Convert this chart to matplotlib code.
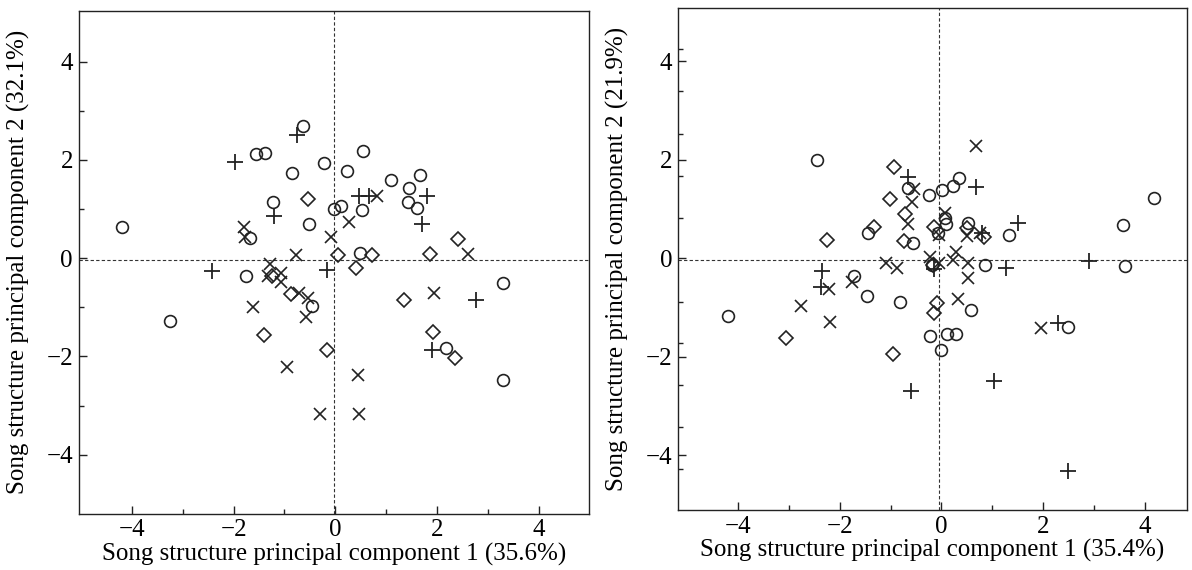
import numpy as np
import matplotlib
matplotlib.use("Agg")
import matplotlib.pyplot as plt
from matplotlib.ticker import FixedLocator

plt.rcParams['font.family'] = ['Liberation Serif', 'DejaVu Serif']

# ---- left panel (PC1 35.6%, PC2 32.1%) ----
left_circle_x = [-4.19, -3.25, -1.55, -1.38, -0.63, -0.86, -0.22, -1.22, -1.67, -0.52,
                 -0.03, 0.12, 0.53, 0.54, 0.23, 1.10, 1.67, 1.46, 1.43, 1.61,
                 0.48, -1.75, -0.46, 2.17, 3.29, 3.29]
left_circle_y = [0.64, -1.28, 2.12, 2.14, 2.68, 1.73, 1.93, 1.15, 0.41, 0.69,
                 1.01, 1.07, 0.98, 2.19, 1.77, 1.59, 1.70, 1.42, 1.15, 1.03,
                 0.10, -0.36, -0.97, -1.82, -0.51, -2.48]
left_plus_x = [-1.98, -0.75, -1.20, -2.43, -0.17, 0.46, 0.67, 1.81, 1.71, 2.76, 1.90]
left_plus_y = [1.96, 2.51, 0.85, -0.27, -0.24, 1.27, 1.26, 1.27, 0.69, -0.85, -1.87]
left_cross_x = [-1.80, -1.77, -0.78, -0.09, 0.82, 0.27, 2.62, -1.28, -1.33, -1.06,
                -1.06, -0.71, -0.54, -0.57, -1.61, -0.94, -0.30, 1.95, 0.44, 0.47]
left_cross_y = [0.64, 0.44, 0.07, 0.43, 1.27, 0.74, 0.08, -0.12, -0.36, -0.31,
                -0.48, -0.70, -0.82, -1.19, -0.99, -2.21, -3.18, -0.71, -2.38, -3.18]
left_diamond_x = [-0.54, 0.05, 0.73, 1.87, 2.42, 0.41, -1.24, -0.88, -1.41, -0.16,
                  1.35, 1.92, 2.35]
left_diamond_y = [1.21, 0.07, 0.07, 0.08, 0.39, -0.21, -0.36, -0.72, -1.57, -1.87,
                  -0.85, -1.50, -2.04]

# ---- right panel (PC1 35.4%, PC2 21.9%) ----
right_circle_x = [-2.44, -0.66, -0.25, -1.45, -0.56, -0.06, -0.19, -1.71, 0.34, 0.23,
                  0.02, 0.07, 0.10, 0.52, 1.32, 3.58, 4.18, 3.62, 0.86, 0.59,
                  -0.22, 0.11, 0.29, 0.00, 2.49, -4.20, -1.47, -0.81]
right_circle_y = [2.00, 1.42, 1.28, 0.52, 0.32, 0.52, -0.14, -0.35, 1.63, 1.47,
                  1.39, 0.81, 0.70, 0.72, 0.47, 0.68, 1.22, -0.16, -0.14, -1.05,
                  -1.58, -1.54, -1.54, -1.86, -1.39, -1.18, -0.76, -0.88]
right_plus_x = [-0.66, -2.35, 0.69, 0.79, 1.50, 2.90, 1.27, -0.15, 2.29, 1.03,
                2.48, -2.37, -0.59]
right_plus_y = [1.64, -0.26, 1.45, 0.51, 0.72, -0.05, -0.20, -0.22, -1.31, -2.49,
                -4.31, -0.58, -2.69]
right_cross_x = [-0.53, -0.57, -0.66, -0.22, -1.09, -0.88, 0.68, 0.08, -0.04, 0.50,
                 0.76, 0.29, 0.23, 0.52, -0.04, 0.52, 0.33, 1.96, -2.76, -2.19,
                 -2.22, -1.76]
right_cross_y = [1.40, 1.14, 0.70, 0.03, -0.10, -0.19, 2.28, 0.92, 0.47, 0.45,
                 0.52, 0.13, -0.03, -0.09, -0.10, -0.40, -0.83, -1.41, -0.97, -1.29,
                 -0.62, -0.49]
right_diamond_x = [-0.93, -1.02, -0.72, -1.33, -2.25, -0.74, -0.15, 0.50, 0.84, -0.16,
                   -0.09, -0.15, -3.05, -0.95]
right_diamond_y = [1.85, 1.21, 0.89, 0.64, 0.37, 0.35, 0.64, 0.61, 0.43, -0.14,
                   -0.91, -1.10, -1.61, -1.94]

major_ticks = [-4, -2, 0, 2, 4]
odd_ticks = [-3, -1, 1, 3]
right_y_minor = [-4.27, -3.42, -2.58, -1.72, -0.88, 0.81, 1.66, 2.53, 3.39, 4.24]

ink = '#222222'

def draw_panel(ax, circ, plus, cross, diam, xlim, ylim, zero, xlabel, ylabel, yminor):
    ax.plot(circ[0], circ[1], linestyle='none', marker='o', ms=8.5, mfc='none',
            mec=ink, mew=1.2)
    ax.plot(plus[0], plus[1], linestyle='none', marker='+', ms=11, mec=ink, mew=1.3)
    ax.plot(cross[0], cross[1], linestyle='none', marker='x', ms=8, mec=ink, mew=1.2)
    ax.plot(diam[0], diam[1], linestyle='none', marker='D', ms=7, mfc='none',
            mec=ink, mew=1.2)
    ax.axvline(zero[0], color='#333333', lw=0.8, ls=(0, (3, 2)), zorder=0)
    ax.axhline(zero[1], color='#333333', lw=0.8, ls=(0, (3, 2)), zorder=0)
    ax.set_xlim(*xlim)
    ax.set_ylim(*ylim)
    ax.set_xticks(major_ticks)
    ax.set_yticks(major_ticks)
    ax.xaxis.set_minor_locator(FixedLocator(odd_ticks))
    ax.yaxis.set_minor_locator(FixedLocator(yminor))
    ax.tick_params(which='both', direction='in', top=False, right=False,
                   labelsize=18, color=ink, width=1.0)
    ax.tick_params(which='major', length=6, pad=4)
    ax.tick_params(which='minor', length=3.5)
    for sp in ax.spines.values():
        sp.set_linewidth(1.0)
        sp.set_color(ink)
    ax.set_xlabel(xlabel, fontsize=18, labelpad=1)
    ax.set_ylabel(ylabel, fontsize=18, labelpad=12)

fig = plt.figure(figsize=(11.92, 5.70), dpi=100)
ax1 = fig.add_axes([0.0659, 0.0988, 0.4286, 0.8819])
ax2 = fig.add_axes([0.5688, 0.1049, 0.4270, 0.8805])

draw_panel(ax1, (left_circle_x, left_circle_y), (left_plus_x, left_plus_y),
           (left_cross_x, left_cross_y), (left_diamond_x, left_diamond_y),
           (-5.05, 5.0), (-5.2, 5.03), (-0.03, -0.03),
           'Song structure principal component 1 (35.6%)',
           'Song structure principal component 2 (32.1%)', odd_ticks)

draw_panel(ax2, (right_circle_x, right_circle_y), (right_plus_x, right_plus_y),
           (right_cross_x, right_cross_y), (right_diamond_x, right_diamond_y),
           (-5.18, 4.83), (-5.11, 5.07), (-0.04, -0.04),
           'Song structure principal component 1 (35.4%)',
           'Song structure principal component 2 (21.9%)', right_y_minor)

fig.savefig('out.png', dpi=100)
